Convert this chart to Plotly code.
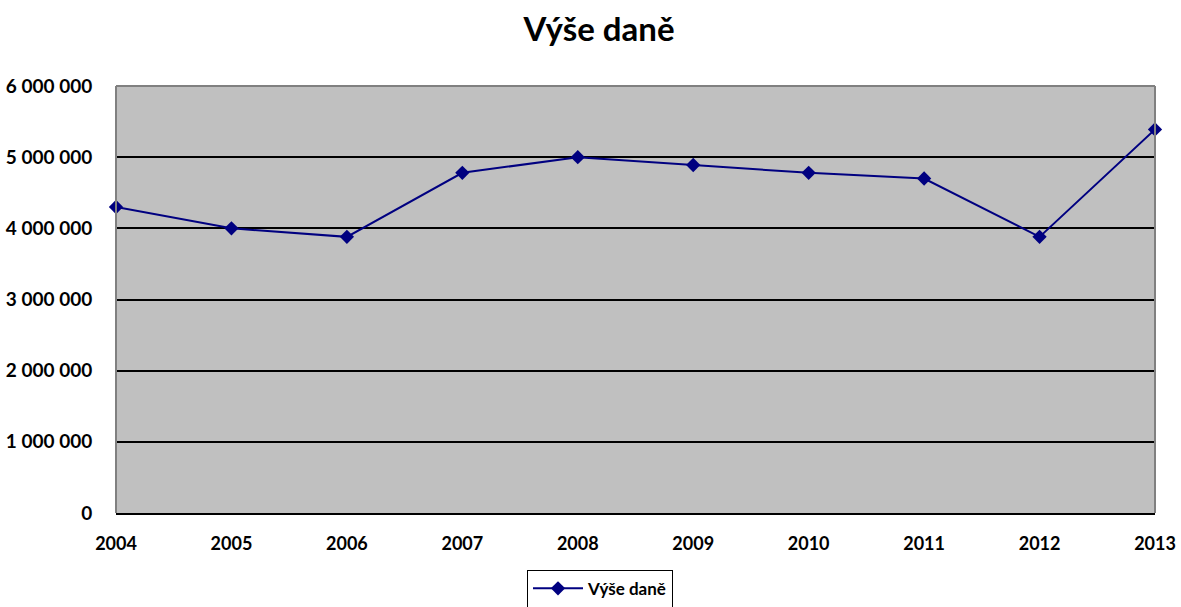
import plotly.graph_objects as go

years = [2004, 2005, 2006, 2007, 2008, 2009, 2010, 2011, 2012, 2013]
tax = [4300000, 4000000, 3880000, 4780000, 5000000, 4890000, 4780000, 4700000, 3880000, 5390000]
y_ticks = [0, 1000000, 2000000, 3000000, 4000000, 5000000, 6000000]
y_labels = ["0", "1 000 000", "2 000 000", "3 000 000", "4 000 000", "5 000 000", "6 000 000"]
x_labels = [str(y) for y in years]
series_name = "Výše daně"
title = "Výše daně"

font = "Lato"
fig = go.Figure()
fig.add_trace(go.Scatter(
    x=years, y=tax, mode="lines+markers", name=series_name,
    line=dict(color="#000080", width=2),
    marker=dict(symbol="diamond", size=11, color="#000080"),
    cliponaxis=False,
))
fig.update_layout(
    width=1181, height=607,
    margin=dict(l=116, r=26, t=86, b=94, autoexpand=False),
    paper_bgcolor="white", plot_bgcolor="#C0C0C0",
    title=dict(text=title, x=599/1181, xanchor="center", y=1 - 29/607, yanchor="middle",
               font=dict(family=font, size=33, color="black", weight="bold")),
    font=dict(family=font, color="black"),
    showlegend=True,
    legend=dict(orientation="h", x=(600-116)/1039, xanchor="center", y=-0.133, yanchor="top",
                bordercolor="black", borderwidth=1, bgcolor="white", itemwidth=50,
                font=dict(family=font, size=17, color="black", weight="bold")),
    xaxis=dict(range=[2004, 2013], tickvals=years, ticktext=x_labels, showgrid=False,
               zeroline=False, showline=True, linecolor="black", linewidth=2,
               ticks="outside", ticklen=13, tickcolor="rgba(0,0,0,0)", automargin=False,
               tickfont=dict(family=font, size=18, color="black", weight="bold")),
    yaxis=dict(range=[0, 6000000], tickvals=y_ticks, ticktext=y_labels,
               showgrid=True, gridcolor="black", gridwidth=2, zeroline=False,
               showline=False, ticks="outside", ticklen=19, tickcolor="rgba(0,0,0,0)",
               automargin=False,
               tickfont=dict(family=font, size=19, color="black", weight="bold")),
    shapes=[
        dict(type="line", xref="paper", yref="paper", x0=0, x1=0, y0=0, y1=1,
             line=dict(color="#808080", width=2)),
        dict(type="line", xref="paper", yref="paper", x0=0, x1=1, y0=1, y1=1,
             line=dict(color="#808080", width=2)),
        dict(type="line", xref="paper", yref="paper", x0=1, x1=1, y0=0, y1=1,
             line=dict(color="#808080", width=2)),
    ],
)
fig.write_html("out.html", config={"displayModeBar": False},
               post_script="document.body.style.margin='0';document.body.style.overflow='hidden';")
